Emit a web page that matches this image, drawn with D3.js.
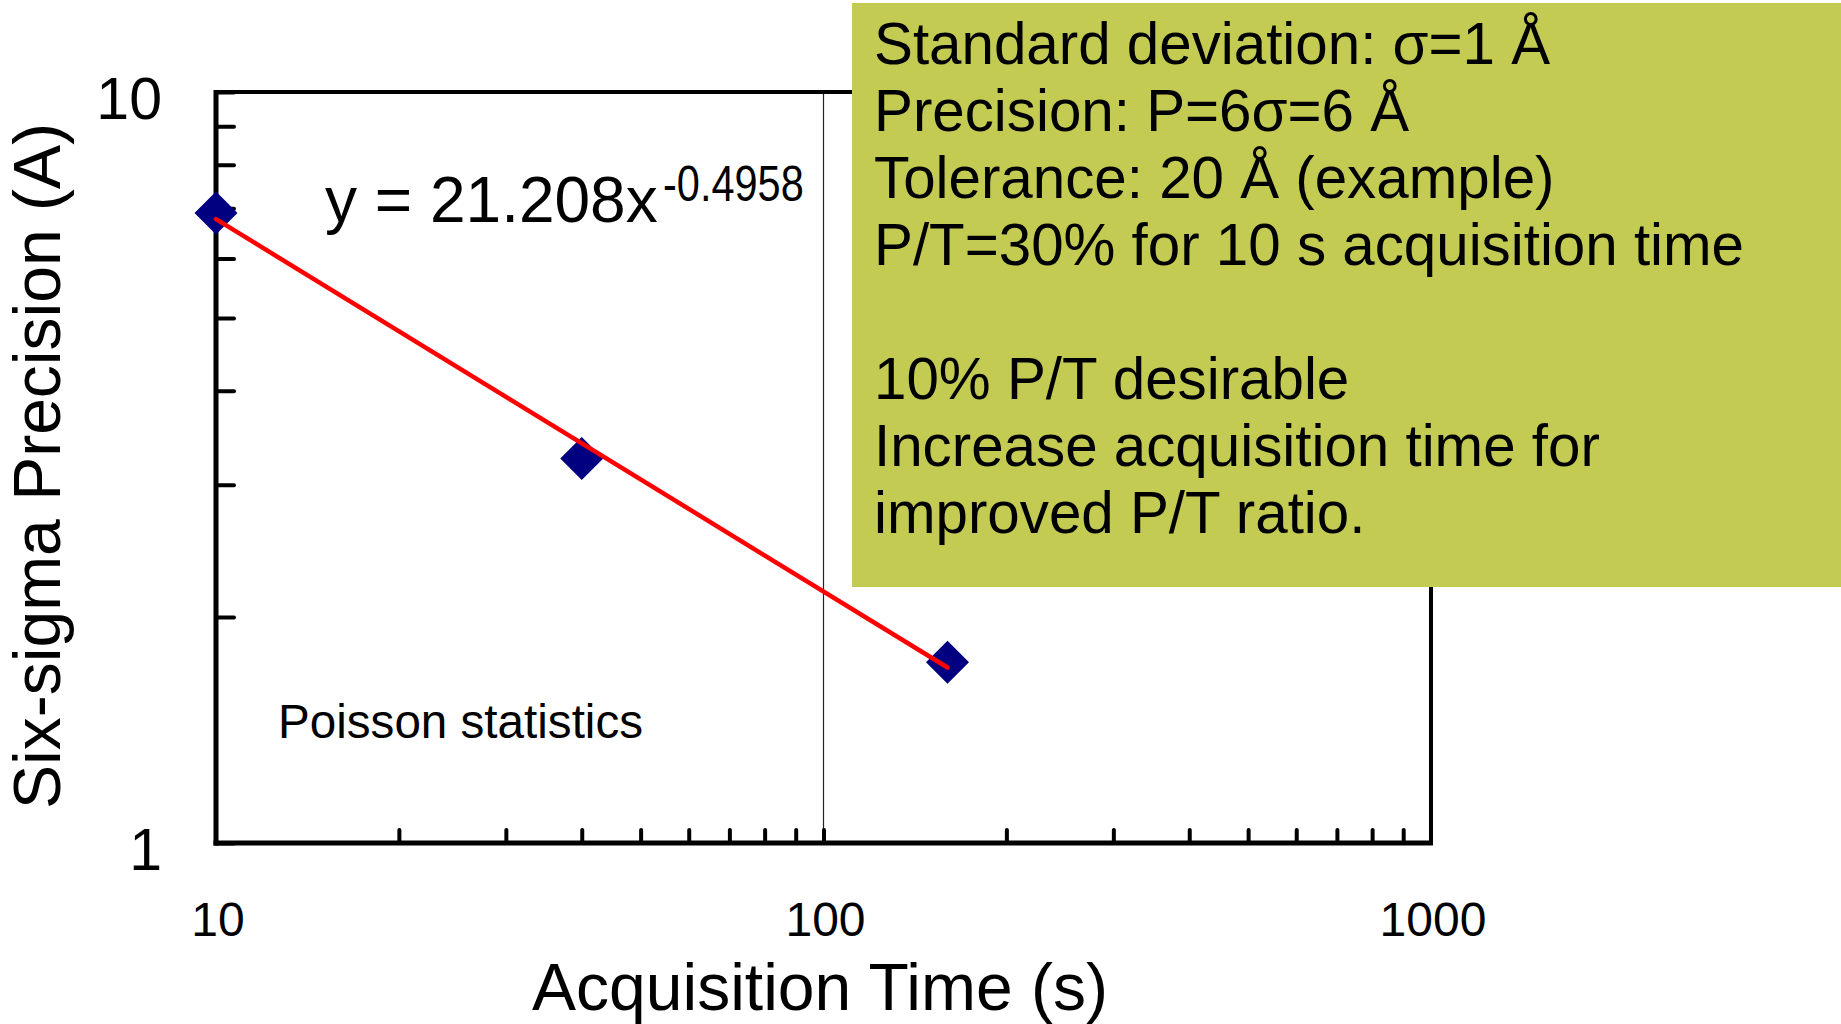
<!DOCTYPE html>
<html>
<head>
<meta charset="utf-8">
<script src="https://cdn.jsdelivr.net/npm/d3@7"></script>
<style>
  html, body { margin: 0; padding: 0; background: #fff; }
  svg { display: block; }
  text { font-family: "Liberation Sans", Arial, sans-serif; fill: #000; }
</style>
</head>
<body>
<svg id="chart" width="1841" height="1024"></svg>
<script>
// Measured acquisition times (s) and six-sigma precision (Å)
const times = [10, 40, 160];
const precision = [6.9, 3.25, 1.74];

// Power-law fit y = a * x^b
const fitA = 21.208;
const fitB = -0.4958;

// Axis ticks
const xMajorTicks = [10, 100, 1000];
const xMinorTicks = [20, 30, 40, 50, 60, 70, 80, 90, 200, 300, 400, 500, 600, 700, 800, 900];
const yMajorTicks = [1, 10];
const yMinorTicks = [2, 3, 4, 5, 6, 7, 8, 9];

// Annotation text
const noteLines = [
  "Standard deviation: σ=1 Å",
  "Precision: P=6σ=6 Å",
  "Tolerance: 20 Å (example)",
  "P/T=30% for 10 s acquisition time",
  "",
  "10% P/T desirable",
  "Increase acquisition time for",
  "improved P/T ratio."
];

const svg = d3.select("#chart");

const plot = { left: 216, right: 1431, top: 92, bottom: 843 };

const x = d3.scaleLog().domain([10, 1000]).range([plot.left, plot.right]);
const y = d3.scaleLog().domain([1, 10]).range([plot.bottom, plot.top]);

// Vertical major gridline(s) inside the plot
svg.append("g")
  .selectAll("line")
  .data(xMajorTicks.filter(v => v > 10 && v < 1000))
  .join("line")
  .attr("x1", d => x(d)).attr("x2", d => x(d))
  .attr("y1", plot.top).attr("y2", plot.bottom)
  .attr("stroke", "#222").attr("stroke-width", 1.2);

// Frame: top and right borders
svg.append("line")
  .attr("x1", plot.left).attr("x2", plot.right)
  .attr("y1", plot.top).attr("y2", plot.top)
  .attr("stroke", "#000").attr("stroke-width", 4);
svg.append("line")
  .attr("x1", plot.right).attr("x2", plot.right)
  .attr("y1", plot.top).attr("y2", plot.bottom)
  .attr("stroke", "#000").attr("stroke-width", 4);

// Y axis: ticks point into the plot
const yAxis = d3.axisRight(y)
  .tickValues(yMinorTicks.concat(yMajorTicks))
  .tickSize(18)
  .tickFormat("");
const gy = svg.append("g")
  .attr("transform", `translate(${plot.left},0)`)
  .call(yAxis);
gy.select(".domain").remove();
gy.selectAll(".tick line").attr("stroke", "#000").attr("stroke-width", 4).attr("stroke-linecap", "round");

// X axis: ticks point up into the plot
const xAxis = d3.axisTop(x)
  .tickValues(xMinorTicks.concat([100]))
  .tickSize(13)
  .tickFormat("");
const gx = svg.append("g")
  .attr("transform", `translate(0,${plot.bottom})`)
  .call(xAxis);
gx.select(".domain").remove();
gx.selectAll(".tick line").attr("stroke", "#000").attr("stroke-width", 4).attr("stroke-linecap", "round");

// Axis lines (left and bottom)
svg.append("line")
  .attr("x1", plot.left).attr("x2", plot.left)
  .attr("y1", plot.top - 2).attr("y2", plot.bottom + 2.5)
  .attr("stroke", "#000").attr("stroke-width", 5);
svg.append("line")
  .attr("x1", plot.left - 2.5).attr("x2", plot.right + 2)
  .attr("y1", plot.bottom).attr("y2", plot.bottom)
  .attr("stroke", "#000").attr("stroke-width", 5);

// Tick labels
svg.append("g")
  .selectAll("text")
  .data(xMajorTicks)
  .join("text")
  .attr("x", d => x(d) + 2)
  .attr("y", 936)
  .attr("text-anchor", "middle")
  .attr("font-size", 48)
  .text(d => d);

svg.append("g")
  .selectAll("text")
  .data(yMajorTicks)
  .join("text")
  .attr("x", 162)
  .attr("y", d => y(d) + 27)
  .attr("text-anchor", "end")
  .attr("font-size", 59)
  .text(d => d);

// Axis titles
svg.append("text")
  .attr("x", 820).attr("y", 1010)
  .attr("text-anchor", "middle")
  .attr("font-size", 66)
  .text("Acquisition Time (s)");

svg.append("text")
  .attr("transform", "translate(60,466) rotate(-90)")
  .attr("text-anchor", "middle")
  .attr("font-size", 66)
  .text("Six-sigma Precision (A)");

// Data markers (navy diamonds)
const diamond = d3.symbol().type(d3.symbolSquare).size(925);
svg.append("g")
  .selectAll("path")
  .data(times.map((t, i) => [t, precision[i]]))
  .join("path")
  .attr("d", diamond)
  .attr("transform", d => `translate(${x(d[0])},${y(d[1])}) rotate(45)`)
  .attr("fill", "#000080");

// Power-law trendline across the measured range
const tExtent = d3.extent(times);
const trend = tExtent.map(t => [t, fitA * Math.pow(t, fitB)]);
svg.append("path")
  .datum(trend)
  .attr("d", d3.line().x(d => x(d[0])).y(d => y(d[1])))
  .attr("fill", "none")
  .attr("stroke", "#ff0000")
  .attr("stroke-width", 4.5)
  .attr("stroke-linecap", "round");

// Fit equation label
svg.append("text")
  .attr("x", 325).attr("y", 222)
  .attr("font-size", 64)
  .text(`y = ${fitA}x`);
svg.append("text")
  .attr("transform", "translate(663,201) scale(0.83,1)")
  .attr("font-size", 50)
  .text(String(fitB));

// Plot annotation
svg.append("text")
  .attr("x", 278).attr("y", 738)
  .attr("font-size", 47.6)
  .text("Poisson statistics");

// Note box
svg.append("rect")
  .attr("x", 852).attr("y", 3)
  .attr("width", 1841 - 852).attr("height", 584)
  .attr("fill", "#c4cb52");

svg.append("g")
  .selectAll("text")
  .data(noteLines)
  .join("text")
  .attr("x", 874)
  .attr("y", (d, i) => 64 + 67 * i)
  .attr("font-size", 58.3)
  .text(d => d);
</script>
</body>
</html>
